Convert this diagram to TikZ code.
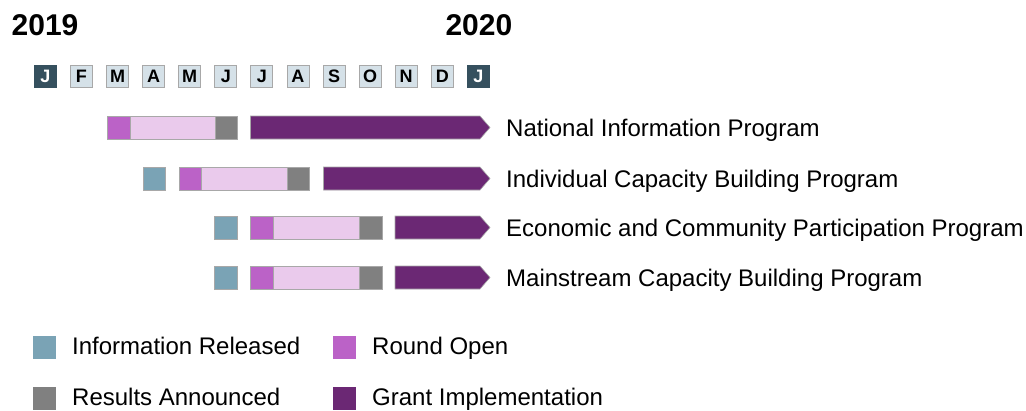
\documentclass[tikz,border=0pt]{standalone}
\usepackage{fontspec}
\setmainfont{Liberation Sans}
\definecolor{info}{HTML}{7AA3B5}
\definecolor{ropen}{HTML}{BB62C7}
\definecolor{rpale}{HTML}{EACAEC}
\definecolor{result}{HTML}{808080}
\definecolor{grant}{HTML}{6B2874}
\definecolor{mdark}{HTML}{35505E}
\definecolor{mlight}{HTML}{D5E1E8}
\definecolor{edge}{HTML}{A8A8A8}
\begin{document}
\begin{tikzpicture}[x=1pt,y=-1pt,
  cell/.style={draw=edge, line width=0.8pt, inner sep=0pt, outer sep=0pt, anchor=north west, minimum height=23pt},
  month/.style={draw=edge, line width=0.8pt, inner sep=0pt, minimum width=22pt, minimum height=22pt, anchor=north west,
     font=\fontsize{18}{18}\selectfont\bfseries},
  mdarkbox/.style={month, fill=mdark, draw=mdark, text=white},
  mlightbox/.style={month, fill=mlight, text=black},
  grantbar/.style={fill=grant, draw=edge, line width=0.6pt},
  label/.style={anchor=base west, inner sep=0pt, font=\fontsize{24}{28}\selectfont},
  year/.style={anchor=base west, inner sep=0pt, font=\fontsize{30}{34}\selectfont\bfseries},
  key/.style={cell, minimum width=23pt, draw=none}
]
\useasboundingbox (0,0) rectangle (1026,410);

% years
\node[year] (y2019) at (11.5,35) {2019};
\node[year, anchor=base east] (y2020) at (512.5,35) {2020};

% months
\foreach \m [count=\i from 0] in {J,F,M,A,M,J,J,A,S,O,N,D,J} {
  \pgfmathsetmacro{\mx}{34+36.08*\i}
  \ifnum\i=0
    \node[mdarkbox] (m\i) at (\mx,65) {\m};
  \else\ifnum\i=12
    \node[mdarkbox] (m\i) at (\mx,65) {\m};
  \else
    \node[mlightbox] (m\i) at (\mx,65) {\m};
  \fi\fi
}

% Row 1
\node[cell, fill=rpale, minimum width=108pt] (r1bar) at (107,116) {};
\node[cell, fill=ropen, minimum width=23pt] (r1open) at (107,116) {};
\node[cell, fill=result, minimum width=22.5pt] (r1res) at (215,116) {};
\fill[grantbar] (250.5,116) -- (480,116) -- (490,127.5) -- (480,139) -- (250.5,139) -- cycle;
\node[label] (l1) at (506,136) {National Information Program};

% Row 2
\node[cell, fill=info, minimum width=22.5pt] (r2info) at (143,167) {};
\node[cell, fill=rpale, minimum width=108pt] (r2bar) at (179,167) {};
\node[cell, fill=ropen, minimum width=22.5pt] (r2open) at (179,167) {};
\node[cell, fill=result, minimum width=22.5pt] (r2res) at (287,167) {};
\fill[grantbar] (323.5,167) -- (480,167) -- (490,178.5) -- (480,190) -- (323.5,190) -- cycle;
\node[label] (l2) at (506,187) {Individual Capacity Building Program};

% Row 3
\node[cell, fill=info, minimum width=23pt] (r3info) at (214.5,216) {};
\node[cell, fill=rpale, minimum width=132pt] (r3bar) at (250.5,216) {};
\node[cell, fill=ropen, minimum width=22.5pt] (r3open) at (250.5,216) {};
\node[cell, fill=result, minimum width=23pt] (r3res) at (359.5,216) {};
\fill[grantbar] (395,216) -- (480,216) -- (490,227.5) -- (480,239) -- (395,239) -- cycle;
\node[label] (l3) at (506,236) {Economic and Community Participation Program};

% Row 4
\node[cell, fill=info, minimum width=23pt] (r4info) at (214.5,266) {};
\node[cell, fill=rpale, minimum width=132pt] (r4bar) at (250.5,266) {};
\node[cell, fill=ropen, minimum width=22.5pt] (r4open) at (250.5,266) {};
\node[cell, fill=result, minimum width=23pt] (r4res) at (359.5,266) {};
\fill[grantbar] (395,266) -- (480,266) -- (490,277.5) -- (480,289) -- (395,289) -- cycle;
\node[label] (l4) at (506,286) {Mainstream Capacity Building Program};

% Legend
\node[key, fill=info] (k1) at (32.5,336) {};
\node[label] (kt1) at (72,354.5) {Information Released};
\node[key, fill=ropen] (k2) at (332.5,336) {};
\node[label] (kt2) at (372,354.5) {Round Open};
\node[key, fill=result] (k3) at (32.5,387) {};
\node[label] (kt3) at (72,405.5) {Results Announced};
\node[key, fill=grant] (k4) at (332.5,387) {};
\node[label] (kt4) at (372,405.5) {Grant Implementation};
\end{tikzpicture}
\end{document}
